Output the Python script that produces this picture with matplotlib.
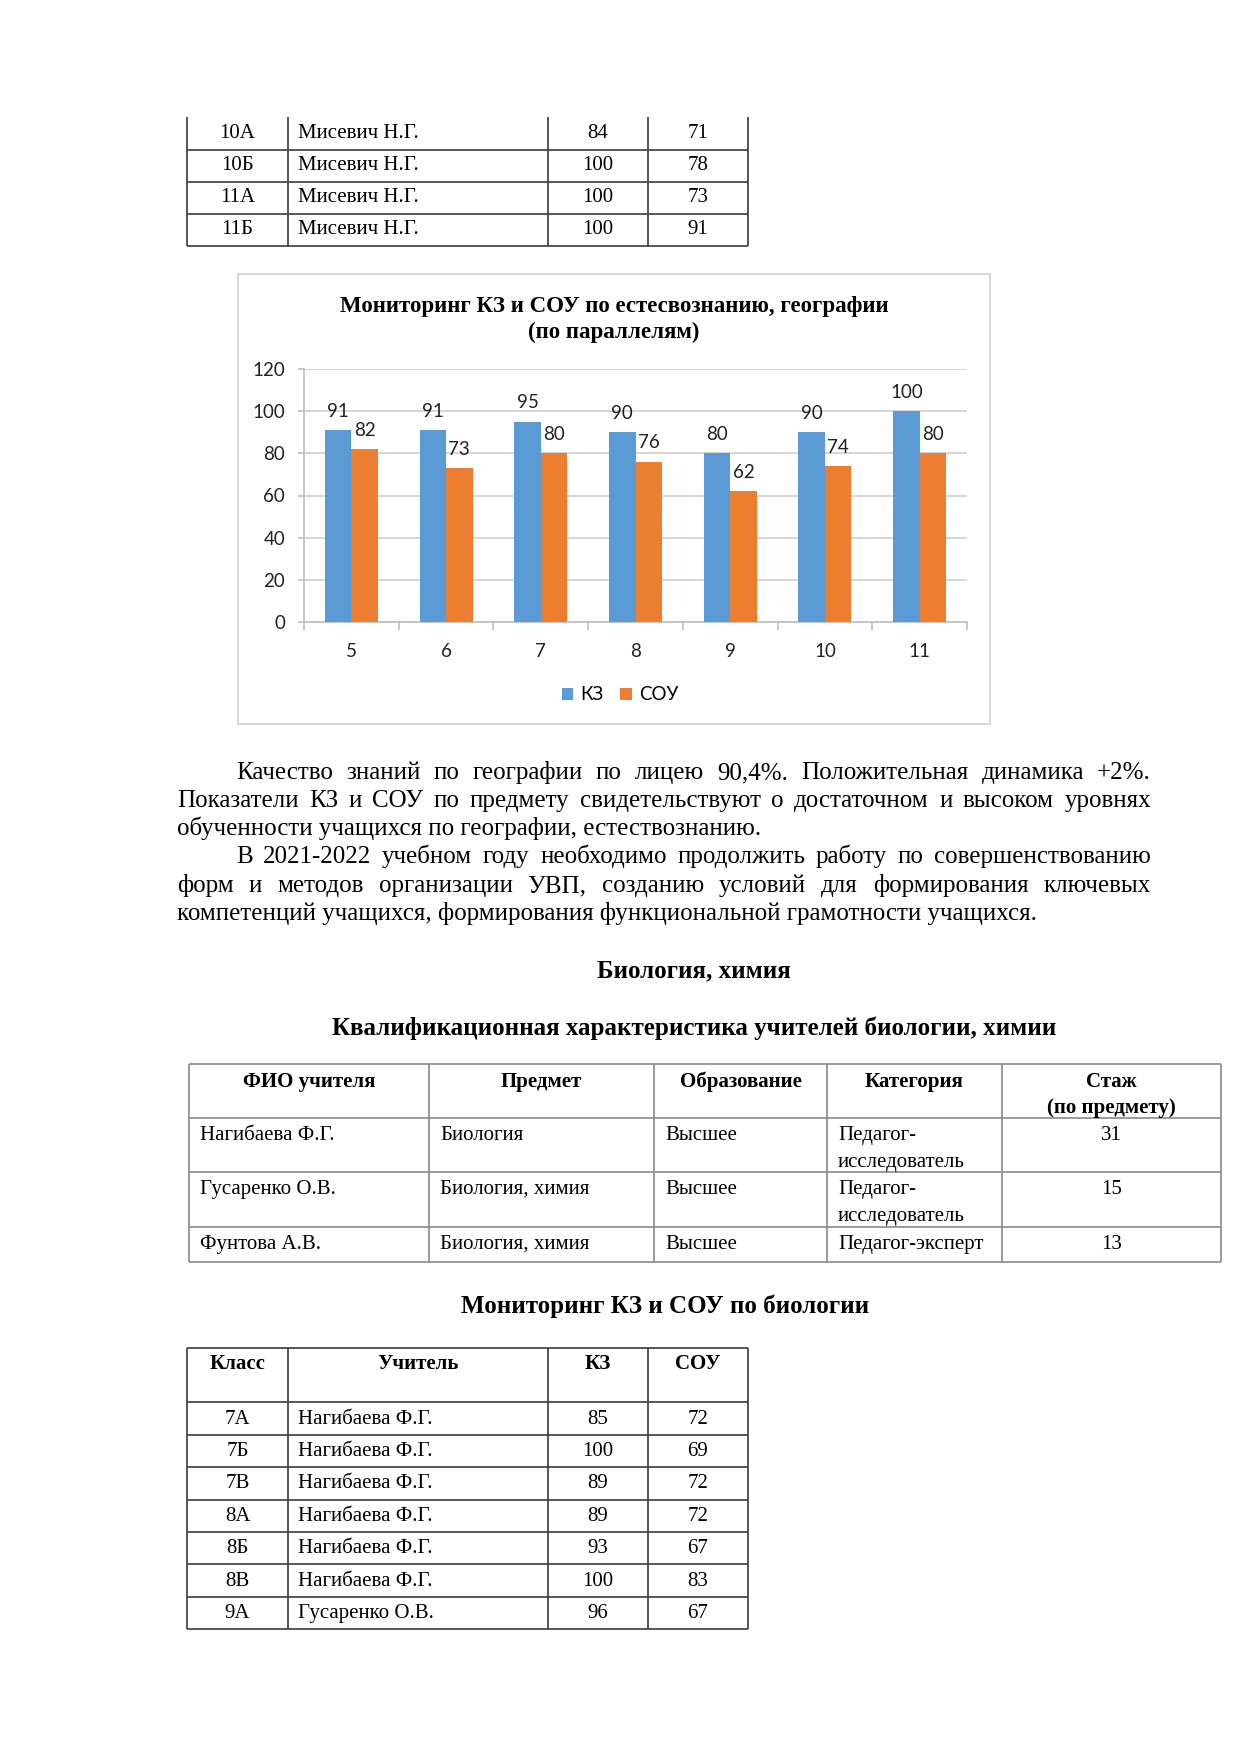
import matplotlib
matplotlib.use('Agg')
import matplotlib.pyplot as plt
import numpy as np
from matplotlib.patches import Rectangle

W, H = 1241, 1755
DPI = 150

# chart data (КЗ / СОУ by grade)
grades = ['5', '6', '7', '8', '9', '10', '11']
kz = [91, 91, 95, 90, 80, 90, 100]
sou = [82, 73, 80, 76, 62, 74, 80]

# end of the previous table
top_classes = ['10А', '10Б', '11А', '11Б']
top_teachers = ['Мисевич Н.Г.'] * 4
top_kz = [84, 100, 100, 100]
top_sou = [71, 78, 73, 91]

# teachers table
qual_header = ['ФИО учителя', 'Предмет', 'Образование', 'Категория', 'Стаж\n(по предмету)']
qual_names = ['Нагибаева Ф.Г.', 'Гусаренко О.В.', 'Фунтова А.В.']
qual_subjects = ['Биология', 'Биология, химия', 'Биология, химия']
qual_education = ['Высшее', 'Высшее', 'Высшее']
qual_category = ['Педагог-\nисследователь', 'Педагог-\nисследователь', 'Педагог-эксперт']
qual_years = [31, 15, 13]

# biology table
bio_header = ['Класс', 'Учитель', 'КЗ', 'СОУ']
bio_classes = ['7А', '7Б', '7В', '8А', '8Б', '8В', '9А']
bio_teachers = ['Нагибаева Ф.Г.'] * 6 + ['Гусаренко О.В.']
bio_kz = [85, 100, 89, 89, 93, 100, 96]
bio_sou = [72, 69, 72, 72, 67, 83, 67]

blue = '#5B9BD5'
orange = '#ED7D31'
serif = 'Liberation Serif'
sans = ['Lato', 'Open Sans', 'DejaVu Sans']

fig = plt.figure(figsize=(W / DPI, H / DPI), dpi=DPI)
page = fig.add_axes([0, 0, 1, 1], zorder=0)
page.set_xlim(0, W)
page.set_ylim(H, 0)
page.axis('off')
renderer = fig.canvas.get_renderer()


def hline(y, x0, x1, c, lw=0.8):
    page.plot([x0, x1], [y, y], color=c, lw=lw, solid_capstyle='butt')


def vline(x, y0, y1, c, lw=0.8):
    page.plot([x, x], [y0, y1], color=c, lw=lw, solid_capstyle='butt')


def justify(x0, x1, y, line, **kw):
    # spread the words so the line fills x0..x1, like a justified paragraph
    words = line.split()
    texts = [page.text(0, y, w, va='baseline', **kw) for w in words]
    widths = [t.get_window_extent(renderer).width for t in texts]
    gap = (x1 - x0 - sum(widths)) / (len(words) - 1)
    x = x0
    for t, w in zip(texts, widths):
        t.set_x(x)
        x += w + gap


# ---------- top table (continuation) ----------
tcol = [187, 288, 548, 648, 748]
trow = [117, 150, 182, 214, 246]
dark = '#3a3a3a'
for x in tcol:
    vline(x, trow[0], trow[-1], dark)
for y in trow[1:]:
    hline(y, tcol[0], tcol[-1], dark)
for i in range(len(top_classes)):
    yb = (trow[i] + trow[i + 1]) / 2 + 4
    page.text((tcol[0] + tcol[1]) / 2, yb, top_classes[i], ha='center', va='baseline', family=serif, fontsize=10)
    page.text(tcol[1] + 10, yb, top_teachers[i], ha='left', va='baseline', family=serif, fontsize=10)
    page.text((tcol[2] + tcol[3]) / 2, yb, str(top_kz[i]), ha='center', va='baseline', family=serif, fontsize=10)
    page.text((tcol[3] + tcol[4]) / 2, yb, str(top_sou[i]), ha='center', va='baseline', family=serif, fontsize=10)

# ---------- chart ----------
page.add_patch(Rectangle((238, 274), 752, 450, fill=False, edgecolor='#D0D0D0', lw=0.8))
page.text(614, 312, 'Мониторинг КЗ и СОУ по естесвознанию, географии', ha='center', va='baseline',
          family=serif, fontweight='bold', fontsize=11)
page.text(614, 338, '(по параллелям)', ha='center', va='baseline',
          family=serif, fontweight='bold', fontsize=11)

pl, pr, pt, pb = 304, 967, 369, 622
ax = fig.add_axes([pl / W, 1 - pb / H, (pr - pl) / W, (pb - pt) / H], zorder=2)
ax.set_facecolor('none')
x = np.arange(len(grades))
bw = 0.28
b1 = ax.bar(x - bw / 2, kz, bw, color=blue, label='КЗ', zorder=3)
b2 = ax.bar(x + bw / 2, sou, bw, color=orange, label='СОУ', zorder=3)
ax.bar_label(b1, padding=5, fontsize=9, family=sans, color='#222222')
ax.bar_label(b2, padding=5, fontsize=9, family=sans, color='#222222')
ax.set_ylim(0, 120)
ax.set_xlim(-0.5, len(grades) - 0.5)
ax.set_yticks(range(0, 121, 20))
ax.grid(axis='y', color='#D0D0D0', lw=0.8, zorder=0)
ax.set_axisbelow(True)
ax.set_xticks(np.arange(-0.5, len(grades), 1.0))
ax.set_xticklabels([])
ax.set_xticks(x, minor=True)
ax.set_xticklabels(grades, minor=True)
ax.tick_params(axis='x', which='major', length=4, color='#BFBFBF', direction='out')
ax.tick_params(axis='x', which='minor', length=0, pad=10, labelsize=9)
ax.tick_params(axis='y', length=3, color='#BFBFBF', pad=6, labelsize=9)
for lab in ax.get_xticklabels(minor=True) + ax.get_yticklabels():
    lab.set_family(sans)
    lab.set_color('#222222')
for s in ['top', 'right']:
    ax.spines[s].set_visible(False)
for s in ['left', 'bottom']:
    ax.spines[s].set_color('#BFBFBF')
    ax.spines[s].set_linewidth(0.8)
ax.legend(loc='center', bbox_to_anchor=(620 / W, 1 - 695 / H), bbox_transform=fig.transFigure,
          ncol=2, frameon=False, handlelength=0.6, handleheight=0.6, handletextpad=0.4,
          columnspacing=0.9, prop={'family': sans, 'size': 9})

# ---------- paragraphs ----------
fs = 12
justify(236, 1151, 779, 'Качество знаний по географии по лицею 90,4%. Положительная динамика +2%.', family=serif, fontsize=fs)
justify(177, 1151, 807, 'Показатели КЗ и СОУ по предмету свидетельствуют о достаточном и высоком уровнях', family=serif, fontsize=fs)
page.text(177, 835, 'обученности учащихся по географии, естествознанию.', va='baseline', family=serif, fontsize=fs)
justify(236, 1151, 863, 'В 2021-2022 учебном году необходимо продолжить работу по совершенствованию', family=serif, fontsize=fs)
justify(177, 1151, 892, 'форм и методов организации УВП, созданию условий для формирования ключевых', family=serif, fontsize=fs)
page.text(177, 920, 'компетенций учащихся, формирования функциональной грамотности учащихся.', va='baseline', family=serif, fontsize=fs)

page.text(694, 977, 'Биология, химия', ha='center', va='baseline', family=serif, fontweight='bold', fontsize=fs)
page.text(694, 1035, 'Квалификационная характеристика учителей биологии, химии', ha='center', va='baseline',
          family=serif, fontweight='bold', fontsize=fs)

# ---------- qualification table ----------
qcol = [189, 429, 654, 827, 1002, 1221]
qrow = [1064, 1118, 1172, 1227, 1262]
grey = '#8a8a8a'
for xx in qcol:
    vline(xx, qrow[0], qrow[-1], grey)
for yy in qrow:
    hline(yy, qcol[0], qcol[-1], grey)
for j, h in enumerate(qual_header):
    for k, part in enumerate(h.split('\n')):
        page.text((qcol[j] + qcol[j + 1]) / 2, 1087 + 26 * k, part, ha='center', va='baseline',
                  family=serif, fontweight='bold', fontsize=10)
for i in range(len(qual_names)):
    yb = qrow[i + 1] + 22
    cells = [qual_names[i], qual_subjects[i], qual_education[i], qual_category[i]]
    for j, c in enumerate(cells):
        for k, part in enumerate(c.split('\n')):
            page.text(qcol[j] + 11, yb + 27 * k, part, ha='left', va='baseline', family=serif, fontsize=10)
    page.text((qcol[4] + qcol[5]) / 2, yb, str(qual_years[i]), ha='center', va='baseline', family=serif, fontsize=10)

# ---------- biology table ----------
page.text(665, 1313, 'Мониторинг КЗ и СОУ по биологии', ha='center', va='baseline',
          family=serif, fontweight='bold', fontsize=fs)
bcol = [187, 288, 548, 648, 748]
brow = [1348, 1402, 1435, 1467, 1500, 1532, 1564, 1597, 1629]
for xx in bcol:
    vline(xx, brow[0], brow[-1], dark)
for yy in brow:
    hline(yy, bcol[0], bcol[-1], dark)
for j, h in enumerate(bio_header):
    page.text((bcol[j] + bcol[j + 1]) / 2, 1369, h, ha='center', va='baseline',
              family=serif, fontweight='bold', fontsize=10)
for i in range(len(bio_classes)):
    yb = (brow[i + 1] + brow[i + 2]) / 2 + 5
    page.text((bcol[0] + bcol[1]) / 2, yb, bio_classes[i], ha='center', va='baseline', family=serif, fontsize=10)
    page.text(bcol[1] + 10, yb, bio_teachers[i], ha='left', va='baseline', family=serif, fontsize=10)
    page.text((bcol[2] + bcol[3]) / 2, yb, str(bio_kz[i]), ha='center', va='baseline', family=serif, fontsize=10)
    page.text((bcol[3] + bcol[4]) / 2, yb, str(bio_sou[i]), ha='center', va='baseline', family=serif, fontsize=10)

fig.savefig('out.png', dpi=DPI, facecolor='white')
